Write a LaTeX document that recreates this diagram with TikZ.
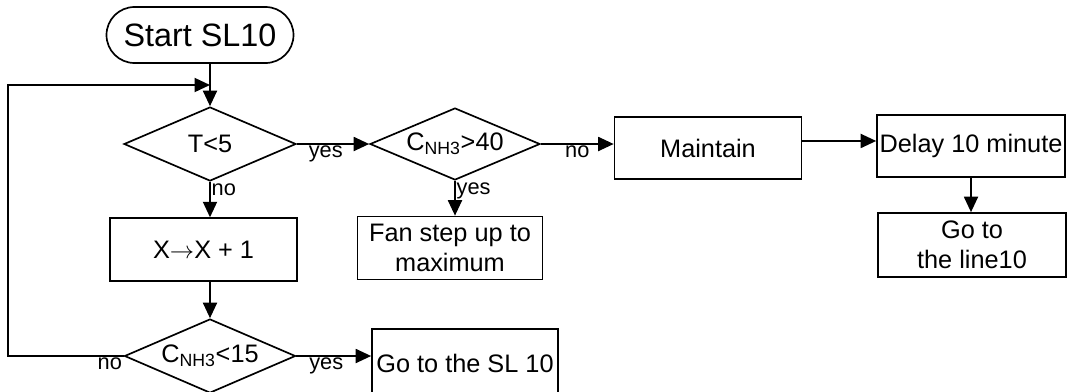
\documentclass[tikz,border=0pt]{standalone}
\usepackage{fontspec}
\setmainfont{Liberation Sans}
\usetikzlibrary{arrows.meta,positioning,shapes.geometric}

\begin{document}
\begin{tikzpicture}[
  term/.style={draw=black, line width=1.2pt, rounded corners=0.7cm, minimum width=4.675cm, minimum height=1.4cm, font=\fontsize{23}{26}\selectfont},
  dec/.style={diamond, aspect=2.3, draw=black, line width=1.2pt, inner sep=0pt, minimum width=4.3cm, minimum height=1.85cm, font=\fontsize{18}{21}\selectfont},
  proc/.style={draw=black, line width=1.2pt, minimum width=4.675cm, minimum height=1.575cm, inner sep=1pt, align=center, font=\fontsize{18}{21}\selectfont},
  arr/.style={-{Triangle[length=11pt,width=10pt]}, line width=1.2pt},
  lab/.style={font=\fontsize{15.5}{17}\selectfont, inner sep=1pt}
]
  \useasboundingbox (0,0) rectangle (26.675,-9.775);

  \node[term] (start) at (5.0,-0.875) {Start SL10};
  \node[dec] (t5) at (5.25,-3.6) {T<5};
  \node[dec, minimum width=4.25cm, minimum height=1.8cm] (c40) at (11.375,-3.6) {C\textsubscript{NH3}>40};
  \node[proc, minimum height=1.55cm] (maintain) at (17.7,-3.7) {Maintain};
  \node[proc, minimum width=4.7cm, minimum height=1.55cm] (delay) at (24.275,-3.65) {Delay 10 minute};
  \node[proc, minimum width=4.7cm, minimum height=1.6cm] (goline) at (24.3,-6.125) {Go to\\the line10};
  \node[proc, minimum width=4.625cm] (fan) at (11.25,-6.2) {Fan step up to\\maximum};
  \node[proc] (xbox) at (5.09,-6.24) {X$\rightarrow$X + 1};
  \node[dec, minimum width=4.275cm] (c15) at (5.25,-8.9) {C\textsubscript{NH3}<15};
  \node[proc, minimum width=4.65cm, minimum height=1.7cm] (sl10) at (11.625,-9.075) {Go to the SL 10};

  % loop back to the first test
  \coordinate (loopcorner) at (0.2,-2.125);
  \coordinate (merge) at (5.25,-2.125);

  \draw[arr] (start.south -| t5.north) -- (t5.north);
  \draw[arr] (t5.east) -- node[lab, below, pos=0.4] (yes1) {yes} (c40.west);
  \draw[arr] (t5.south) -- (t5.south |- xbox.north);
  \node[lab, anchor=north west] (no1) at (t5.south) {no};
  \draw[arr] (c40.east) -- node[lab, below] (no2) {no} (c40.east -| maintain.west);
  \draw[arr] (c40.south) -- (c40.south |- fan.north);
  \node[lab, anchor=north west] (yes2) at (c40.south) {yes};
  \draw[arr] ([yshift=5pt]maintain.east) -- ([yshift=5pt]maintain.east -| delay.west);
  \draw[arr] (delay.south) -- (delay.south |- goline.north);
  \draw[arr] (xbox.south -| c15.north) -- (c15.north);
  \draw[arr] (c15.east) -- node[lab, below, pos=0.4] (yes3) {yes} (c15.east -| sl10.west);
  \draw[arr] (c15.west) -| (loopcorner) -- (merge);
  \node[lab, anchor=north east] (no3) at (c15.west) {no};
\end{tikzpicture}
\end{document}
